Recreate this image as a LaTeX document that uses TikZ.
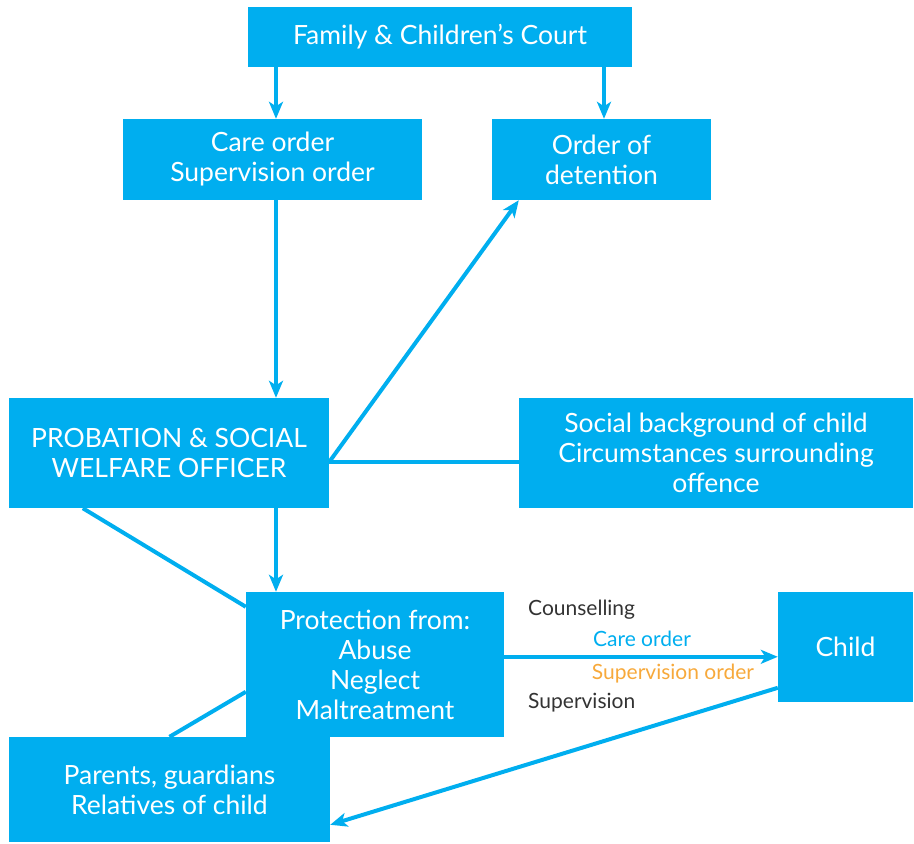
\documentclass[tikz,border=0pt]{standalone}
\usepackage{fontspec}
\setmainfont{Lato}
\usetikzlibrary{arrows.meta}
\definecolor{boxc}{HTML}{00AEEF}
\definecolor{orangec}{HTML}{F7A93B}
\definecolor{darkc}{HTML}{333333}
\tikzset{
  box/.style={fill=boxc, draw=none, text=white, align=center, inner sep=0pt,
    font=\fontsize{26.5}{30}\selectfont},
  conn/.style={draw=boxc, line width=4pt},
  arr/.style={conn, -{Stealth[length=17pt,width=14pt,inset=4.5pt]}},
  lbl/.style={inner sep=0pt, font=\fontsize{21}{24}\selectfont},
}
\begin{document}
\begin{tikzpicture}[x=1pt,y=-1pt]
\useasboundingbox (0,0) rectangle (914,844);
\node[box, minimum width=384, minimum height=60] (court) at (440,37) {Family \& Children’s Court};
\node[box, minimum width=299, minimum height=81] (care) at (272.5,159.5) {Care order\\Supervision order};
\node[box, minimum width=219, minimum height=81] (det) at (601.5,159.5) {Order of\\detention};
\node[box, minimum width=320, minimum height=110] (prob) at (169,453) {PROBATION \& SOCIAL\\WELFARE OFFICER};
\node[box, minimum width=394, minimum height=110] (soc) at (716,453) {Social background of child\\Circumstances surrounding\\offence};
\node[box, minimum width=258, minimum height=145] (prot) at (375,664.5) {Protection from:\\Abuse\\Neglect\\Maltreatment};
\node[box, minimum width=135, minimum height=110] (child) at (845.5,647) {Child};
\node[box, minimum width=321, minimum height=105] (par) at (169.5,789.5) {Parents, guardians\\Relatives of child};

\node[lbl, text=darkc, anchor=west] (l1) at (528,610) {Counselling};
\node[lbl, text=boxc] (l2) at (642,639) {Care order};
\node[lbl, text=orangec] (l3) at (673,674) {Supervision order};
\node[lbl, text=darkc, anchor=west] (l4) at (528,703) {Supervision};

\draw[arr] ([xshift=3.5pt]care.north |- court.south) -- ([xshift=3.5pt]care.north);
\draw[arr] ([xshift=2.5pt]det.north |- court.south) -- ([xshift=2.5pt]det.north);
\draw[arr] ([xshift=3.5pt]care.south) -- ([xshift=3.5pt]care.south |- prob.north);
\coordinate (pj) at ([yshift=-9pt]prob.east);
\draw[arr] (pj) -- ([xshift=27pt]det.south west);
\draw[conn] (pj) -- (pj -| soc.west);
\draw[arr] ([xshift=3.5pt]care.south |- prob.south) -- ([xshift=3.5pt]care.south |- prot.north);
\draw[conn] ([xshift=74pt]prob.south west) -- ([yshift=-15pt]prot.north west);
\draw[conn] (par.north) -- ([yshift=-100pt]prot.north west);
\coordinate (pc) at ([yshift=-65pt]prot.north east);
\draw[arr] (pc) -- (pc -| child.west);
\draw[arr] ([yshift=-96pt]child.north west) -- ([yshift=-88pt]par.north east);
\end{tikzpicture}
\end{document}
